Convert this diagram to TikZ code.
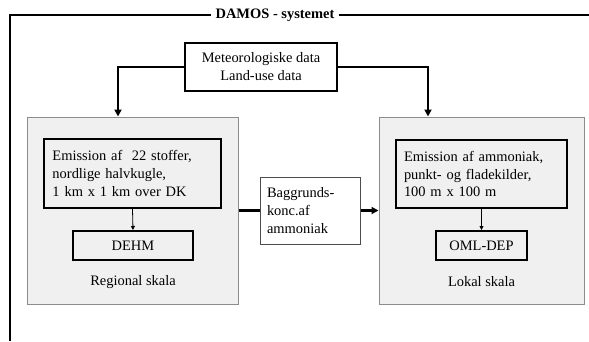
\documentclass[tikz,border=0pt]{standalone}
\usepackage{fontspec}
\setmainfont{Liberation Serif}
\usetikzlibrary{arrows.meta}
\begin{document}
\begin{tikzpicture}[x=1bp,y=-1bp,
  every node/.style={font=\fontsize{14.5}{18}\selectfont, inner sep=0pt},
  graybox/.style={draw=black!45, line width=1bp, fill=black!6},
  blackbox/.style={draw=black, line width=2bp, fill=black!6},
  whitebox/.style={draw=black!70, line width=1bp, fill=white},
  thickarrow/.style={line width=2.5bp, -{Triangle[length=7bp,width=7bp]}},
  thinarrow/.style={line width=0.8bp, -{Triangle[length=4bp,width=4bp]}}
]
\useasboundingbox (0,0) rectangle (589,341);
% outer frame
\node (title) at (275,15) {\textbf{DAMOS - systemet}};
\coordinate (tl) at (10,15);
\coordinate (bl) at (10,341);
\coordinate (tr) at (589,15);
\draw[line width=1.5bp] ([xshift=-4bp]title.west) -- (tl) -- (bl);
\draw[line width=1.5bp] ([xshift=4bp]title.east) -- (tr);
% top box
\node[draw=black, line width=2bp, fill=white, minimum width=152bp, minimum height=48bp, align=center] (top) at (261,67) {Meteorologiske data\\Land-use data};
% gray boxes
\node[graybox, minimum width=210bp, minimum height=187bp] (lgray) at (133,210.5) {};
\node[graybox, minimum width=205bp, minimum height=187bp] (rgray) at (481.5,210.5) {};
% left content
\node[blackbox, text width=160bp, inner sep=8.5bp, minimum height=69bp, align=left] (lem) at (132.5,173.5) {Emission af \ 22 stoffer,\\nordlige halvkugle,\\1 km x 1 km over DK};
\node[blackbox, minimum width=120bp, minimum height=29bp] (dehm) at (133,245.5) {DEHM};
\node (rlab) at (133,282) {Regional skala};
% right content
\node[blackbox, text width=155bp, inner sep=8bp, minimum height=68bp, align=left] (rem) at (481.5,174) {Emission af ammoniak,\\punkt- og fladekilder,\\100 m x 100 m};
\node[blackbox, minimum width=91bp, minimum height=29bp] (oml) at (481.5,245.5) {OML-DEP};
\node (llab) at (481.5,282) {Lokal skala};
% middle box
\node[whitebox, text width=86bp, inner sep=7bp, minimum height=67bp, align=left] (bag) at (310,210.5) {Baggrunds-\\konc.af\\ammoniak};
% connectors
\draw[thickarrow] (top.west) -| ([xshift=-15bp]lgray.north);
\draw[thickarrow] (top.east) -| ([xshift=-53.5bp]rgray.north);
\draw[thinarrow] (lem.south) -- (dehm.north);
\draw[thinarrow] (rem.south) -- (oml.north);
\draw[line width=2.5bp] (lgray.east) -- (bag.west);
\draw[thickarrow] (bag.east) -- (rgray.west);
\end{tikzpicture}
\end{document}
